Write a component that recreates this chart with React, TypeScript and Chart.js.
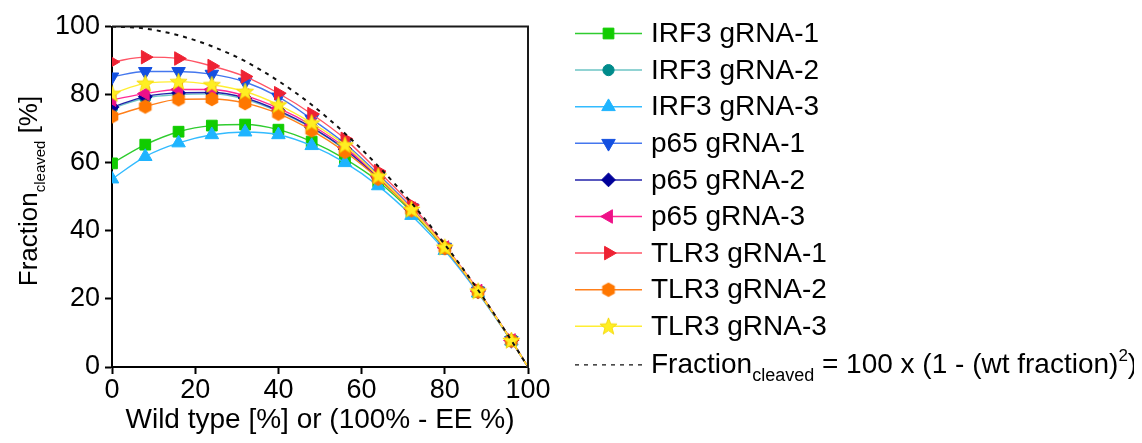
import React, { useEffect, useRef } from 'react';
import { Chart, registerables } from 'chart.js';
import { drawPoint } from 'chart.js/helpers';

Chart.register(...registerables);

// ---------- data ----------
const wildTypePct = [0, 8, 16, 24, 32, 40, 48, 56, 64, 72, 80, 88, 96, 100];
const irf3g1 = [59.8, 65.3, 69.1, 70.9, 71.2, 69.7, 66.2, 61.1, 54.5, 45.6, 34.8, 22.0, 7.7, 0];
const irf3g2 = [76.0, 79.0, 80.0, 80.2, 78.6, 75.0, 70.2, 63.8, 55.5, 46.2, 35.0, 22.2, 7.8, 0];
const irf3g3 = [55.2, 61.8, 65.8, 68.2, 69.0, 68.2, 65.0, 60.0, 53.2, 44.5, 34.2, 21.7, 7.6, 0];
const p65g1 = [85.2, 86.8, 86.8, 86.0, 83.7, 79.3, 72.8, 65.6, 56.6, 46.8, 35.2, 22.3, 7.8, 0];
const p65g2 = [76.3, 79.4, 80.5, 80.6, 79.0, 75.3, 70.4, 64.0, 55.6, 46.3, 35.0, 22.2, 7.8, 0];
const p65g3 = [78.5, 80.3, 81.5, 81.5, 79.7, 76.0, 71.0, 64.5, 56.0, 46.5, 35.1, 22.3, 7.8, 0];
const tlr3g1 = [89.6, 91.0, 90.6, 88.4, 85.3, 80.4, 74.3, 67.0, 57.5, 47.6, 35.6, 22.6, 7.9, 0];
const tlr3g2 = [73.6, 76.5, 78.6, 78.7, 77.5, 74.4, 69.5, 63.2, 55.3, 46.0, 34.9, 22.1, 7.7, 0];
const tlr3g3 = [80.3, 83.3, 83.8, 82.9, 80.9, 77.0, 71.7, 65.2, 56.1, 46.3, 35.2, 22.3, 7.8, 0];
const theoretical = [100, 99.4, 97.4, 94.2, 89.8, 84.0, 77.0, 68.6, 59.0, 48.2, 36.0, 22.6, 7.8, 0];

const seriesLabels = [
  'IRF3 gRNA-1', 'IRF3 gRNA-2', 'IRF3 gRNA-3',
  'p65 gRNA-1', 'p65 gRNA-2', 'p65 gRNA-3',
  'TLR3 gRNA-1', 'TLR3 gRNA-2', 'TLR3 gRNA-3',
];
const seriesValues = [irf3g1, irf3g2, irf3g3, p65g1, p65g2, p65g3, tlr3g1, tlr3g2, tlr3g3];
const axisTicks = [0, 20, 40, 60, 80, 100];

// ---------- styles ----------
const markerColors = ['#11cc00', '#008b8b', '#1eb4ff', '#1450e0', '#000099', '#ee1188', '#ee2233', '#ff7700', '#ffee22'];
const lineColors = ['#2fcc2f', '#6cc5c5', '#33bbff', '#4477ee', '#2222aa', '#ff2a95', '#ff5566', '#ff7f1a', '#ffee33'];
const markerRotations = [0, 0, 0, 180, 0, 270, 90, 0, 0];
const FONT = 'Arial, "Liberation Sans", sans-serif';

function makeHexagon(color: string) {
  const c = document.createElement('canvas');
  c.width = 16; c.height = 16;
  const g = c.getContext('2d')!;
  g.fillStyle = color;
  g.beginPath();
  for (let k = 0; k < 6; k++) {
    const a = -Math.PI / 2 + (k * Math.PI) / 3;
    const px = 8 + 7.3 * Math.cos(a);
    const py = 8 + 7.3 * Math.sin(a);
    if (k === 0) g.moveTo(px, py); else g.lineTo(px, py);
  }
  g.closePath();
  g.fill();
  return c;
}

function makeStar(color: string) {
  const c = document.createElement('canvas');
  c.width = 19; c.height = 19;
  const g = c.getContext('2d')!;
  g.fillStyle = color;
  g.strokeStyle = '#f2d400';
  g.lineWidth = 0.8;
  g.beginPath();
  for (let k = 0; k < 10; k++) {
    const a = -Math.PI / 2 + (k * Math.PI) / 5;
    const r = k % 2 === 0 ? 9 : 3.8;
    const px = 9.5 + r * Math.cos(a);
    const py = 10 + r * Math.sin(a);
    if (k === 0) g.moveTo(px, py); else g.lineTo(px, py);
  }
  g.closePath();
  g.fill();
  g.stroke();
  return c;
}

export default function App() {
  const ref = useRef<HTMLCanvasElement | null>(null);

  useEffect(() => {
    if (!ref.current) return;
    const pointStyles: any[] = [
      'rect', 'circle', 'triangle', 'triangle', 'rectRot', 'triangle', 'triangle',
      makeHexagon(markerColors[7]), makeStar(markerColors[8]),
    ];
    const radii = [7.6, 5.6, 7.8, 7.8, 6.9, 7.8, 7.8, 7, 8];
    const lastIdx = wildTypePct.length - 1;

    const dataSets: any[] = seriesValues.map((vals, i) => ({
      label: seriesLabels[i],
      data: vals.map((v, j) => ({ x: wildTypePct[j], y: v })),
      borderColor: lineColors[i],
      backgroundColor: markerColors[i],
      pointBackgroundColor: markerColors[i],
      pointBorderColor: markerColors[i],
      pointBorderWidth: 1,
      borderWidth: 1.4,
      pointStyle: pointStyles[i],
      pointRotation: markerRotations[i],
      pointRadius: (c: any) => (c.dataIndex === lastIdx ? 0 : radii[i]),
      cubicInterpolationMode: 'monotone',
      clip: 0,
      order: -i,
    }));
    dataSets.push({
      label: 'theoretical',
      data: theoretical.map((v, j) => ({ x: wildTypePct[j], y: v })),
      borderColor: '#111',
      borderWidth: 2,
      borderDash: [4, 5],
      pointRadius: 0,
      cubicInterpolationMode: 'monotone',
      clip: 0,
      order: -20,
    });

    const decor = {
      id: 'decor',
      afterDraw(chart: any) {
        const ctx: CanvasRenderingContext2D = chart.ctx;
        const a = chart.chartArea;
        ctx.save();
        // frame top/right
        ctx.strokeStyle = '#1a1a1a';
        ctx.lineWidth = 2;
        ctx.beginPath();
        ctx.moveTo(a.left, a.top);
        ctx.lineTo(a.right, a.top);
        ctx.lineTo(a.right, a.bottom + 1);
        ctx.stroke();

        // y title with subscript
        ctx.save();
        ctx.translate(29, 183);
        ctx.rotate(-Math.PI / 2);
        ctx.fillStyle = '#000';
        ctx.textBaseline = 'alphabetic';
        const big = '26px ' + FONT;
        const small = '15px ' + FONT;
        ctx.font = big;
        const w1 = ctx.measureText('Fraction').width;
        const w3 = ctx.measureText(' [%]').width;
        ctx.font = small;
        const w2 = ctx.measureText('cleaved').width;
        let x = -(w1 + w2 + w3) / 2;
        ctx.font = big; ctx.fillText('Fraction', x, 0); x += w1;
        ctx.font = small; ctx.fillText('cleaved', x, 8); x += w2;
        ctx.font = big; ctx.fillText(' [%]', x, 0);
        ctx.restore();

        // legend
        const X0 = 567, X1 = 634, TX = 643, Y0 = 25.5, DY = 36.6;
        const mid = (X0 + X1) / 2;
        ctx.textAlign = 'left';
        for (let i = 0; i < seriesLabels.length; i++) {
          const y = Y0 + DY * i;
          ctx.strokeStyle = lineColors[i];
          ctx.lineWidth = 1.5;
          ctx.setLineDash([]);
          ctx.beginPath();
          ctx.moveTo(X0, y);
          ctx.lineTo(X1, y);
          ctx.stroke();
          ctx.fillStyle = markerColors[i];
          ctx.strokeStyle = markerColors[i];
          ctx.lineWidth = 1;
          drawPoint(ctx, { pointStyle: pointStyles[i], rotation: markerRotations[i], radius: radii[i], borderWidth: 1 } as any, mid, y);
          ctx.fillStyle = '#000';
          ctx.font = '28px ' + FONT;
          ctx.textBaseline = 'middle';
          ctx.fillText(seriesLabels[i], TX, y + 1);
        }
        // theoretical line entry
        const yl = Y0 + DY * seriesLabels.length;
        ctx.strokeStyle = '#111';
        ctx.lineWidth = 1.3;
        ctx.setLineDash([4, 5]);
        ctx.beginPath();
        ctx.moveTo(X0, yl + 2);
        ctx.lineTo(X1, yl + 2);
        ctx.stroke();
        ctx.setLineDash([]);
        ctx.fillStyle = '#000';
        ctx.textBaseline = 'alphabetic';
        const base = yl + 10;
        let tx = TX;
        const parts: [string, string, number][] = [
          ['Fraction', '28px ' + FONT, 0],
          ['cleaved', '18px ' + FONT, 8],
          [' = 100 x (1 - (wt fraction)', '28px ' + FONT, 0],
          ['2', '17px ' + FONT, -12],
          [')', '28px ' + FONT, 0],
        ];
        for (const [t, f, dy] of parts) {
          ctx.font = f;
          ctx.fillText(t, tx, base + dy);
          tx += ctx.measureText(t).width;
        }
        ctx.restore();
      },
    };

    const chart = new Chart(ref.current, {
      type: 'line',
      data: { datasets: dataSets },
      plugins: [decor],
      options: {
        animation: false,
        responsive: true,
        maintainAspectRatio: false,
        events: [],
        layout: { padding: { left: 0, top: 16, right: 606, bottom: 0 } },
        plugins: { legend: { display: false }, tooltip: { enabled: false } },
        scales: {
          x: {
            type: 'linear',
            min: 0,
            max: 100,
            afterBuildTicks: (s: any) => { s.ticks = axisTicks.map((v) => ({ value: v })); },
            afterFit: (s: any) => { s.height = 68; },
            grid: { display: true, drawOnChartArea: false, drawTicks: true, tickLength: 7, tickWidth: 2, tickColor: '#000' },
            border: { display: true, color: '#000', width: 2 },
            ticks: { color: '#000', font: { family: FONT, size: 27, lineHeight: 1 }, padding: 3, maxRotation: 0 },
            title: { display: true, text: 'Wild type [%] or (100% - EE %)', color: '#000', font: { family: FONT, size: 28, lineHeight: 1 }, padding: { top: 0, bottom: 1 } },
          },
          y: {
            type: 'linear',
            min: 0,
            max: 100,
            afterBuildTicks: (s: any) => { s.ticks = axisTicks.map((v) => ({ value: v })); },
            afterFit: (s: any) => { s.width = 104; },
            grid: { display: true, drawOnChartArea: false, drawTicks: true, tickLength: 7, tickWidth: 2, tickColor: '#000' },
            border: { display: true, color: '#000', width: 2 },
            ticks: { color: '#000', font: { family: FONT, size: 27, lineHeight: 1 }, padding: 5 },
          },
        },
      } as any,
    });
    return () => chart.destroy();
  }, []);

  return (
    <div style={{ width: 1126, height: 427, position: 'relative' }}>
      <canvas ref={ref} />
    </div>
  );
}
